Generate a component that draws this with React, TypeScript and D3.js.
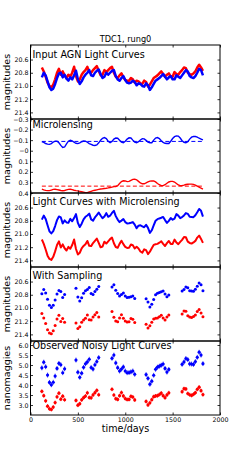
import React, { useEffect, useRef } from 'react';
import * as d3 from 'd3';

// sampling grid of the simulated curves (days)
const times = [
  120, 140, 160, 180, 200, 220, 240, 260, 280, 300,
  320, 340, 360, 380, 400, 420, 440, 460, 480, 500,
  520, 540, 560, 580, 600, 620, 640, 660, 680, 700,
  720, 740, 760, 780, 800, 820, 840, 860, 880, 900,
  920, 940, 960, 980, 1000, 1020, 1040, 1060, 1080, 1100,
  1120, 1140, 1160, 1180, 1200, 1220, 1240, 1260, 1280, 1300,
  1320, 1340, 1360, 1380, 1400, 1420, 1440, 1460, 1480, 1500,
  1520, 1540, 1560, 1580, 1600, 1620, 1640, 1660, 1680, 1700,
  1720, 1740, 1760, 1780, 1800, 1820,
];

// intrinsic AGN magnitudes (image A red, image B blue)
const agnRed = [
  20.72, 20.78, 20.86, 20.95, 21.0, 21.02, 20.98, 20.9, 20.8, 20.74,
  20.83, 20.78, 20.84, 20.88, 20.83, 20.86, 20.8, 20.71, 20.85, 20.93,
  20.9, 20.83, 20.79, 20.76, 20.71, 20.79, 20.8, 20.76, 20.73, 20.7,
  20.77, 20.84, 20.83, 20.76, 20.79, 20.76, 20.73, 20.71, 20.8, 20.86,
  20.88, 20.84, 20.81, 20.87, 20.91, 20.92, 20.92, 20.88, 20.9, 20.95,
  20.92, 20.93, 20.96, 20.97, 20.92, 20.94, 21.01, 20.98, 20.93, 20.88,
  20.86, 20.84, 20.81, 20.78, 20.82, 20.86, 20.83, 20.81, 20.86, 20.86,
  20.79, 20.82, 20.83, 20.79, 20.76, 20.72, 20.73, 20.8, 20.82, 20.83,
  20.81, 20.78, 20.72, 20.68, 20.72, 20.77,
];
const agnBlue = [
  20.87, 20.8, 20.84, 20.93, 21.02, 21.06, 21.04, 20.97, 20.88, 20.81,
  20.8, 20.87, 20.83, 20.89, 20.92, 20.87, 20.9, 20.84, 20.77, 20.9,
  20.97, 20.93, 20.87, 20.83, 20.8, 20.76, 20.84, 20.85, 20.8, 20.77,
  20.75, 20.82, 20.88, 20.86, 20.8, 20.83, 20.8, 20.77, 20.76, 20.85,
  20.9, 20.92, 20.88, 20.85, 20.91, 20.95, 20.96, 20.95, 20.92, 20.94,
  20.99, 20.96, 20.97, 21.0, 21.01, 20.96, 20.99, 21.06, 21.02, 20.97,
  20.92, 20.9, 20.88, 20.85, 20.82, 20.86, 20.9, 20.87, 20.85, 20.9,
  20.9, 20.84, 20.86, 20.88, 20.84, 20.8, 20.76, 20.78, 20.85, 20.87,
  20.88, 20.85, 20.8, 20.74, 20.76, 20.84,
];

// microlensing magnitudes
const mlRed = [
  0.364, 0.37, 0.375, 0.378, 0.378, 0.372, 0.366, 0.364, 0.368, 0.372,
  0.376, 0.378, 0.376, 0.37, 0.366, 0.364, 0.368, 0.374, 0.378, 0.38,
  0.384, 0.388, 0.392, 0.396, 0.396, 0.39, 0.384, 0.378, 0.374, 0.37,
  0.366, 0.362, 0.36, 0.357, 0.355, 0.352, 0.348, 0.344, 0.34, 0.338,
  0.33, 0.31, 0.292, 0.284, 0.286, 0.292, 0.29, 0.28, 0.271, 0.269,
  0.275, 0.29, 0.305, 0.313, 0.313, 0.305, 0.295, 0.288, 0.285, 0.286,
  0.295, 0.31, 0.322, 0.33, 0.33, 0.322, 0.308, 0.296, 0.29, 0.29,
  0.296, 0.31, 0.324, 0.33, 0.33, 0.326, 0.32, 0.317, 0.316, 0.316,
  0.318, 0.325, 0.335, 0.345, 0.355, 0.364,
];
const mlBlue = [
  -0.086, -0.078, -0.068, -0.062, -0.06, -0.068, -0.082, -0.09, -0.09, -0.075,
  -0.05, -0.03, -0.035, -0.065, -0.09, -0.098, -0.092, -0.08, -0.07, -0.067,
  -0.075, -0.085, -0.092, -0.09, -0.08, -0.068, -0.06, -0.052, -0.05, -0.055,
  -0.075, -0.1, -0.118, -0.124, -0.115, -0.09, -0.076, -0.088, -0.11, -0.12,
  -0.118, -0.1, -0.082, -0.076, -0.09, -0.11, -0.122, -0.12, -0.1, -0.082,
  -0.076, -0.085, -0.102, -0.114, -0.112, -0.098, -0.082, -0.076, -0.076, -0.1,
  -0.12, -0.124, -0.115, -0.095, -0.078, -0.07, -0.068, -0.068, -0.09, -0.115,
  -0.133, -0.14, -0.138, -0.12, -0.095, -0.08, -0.076, -0.085, -0.11, -0.128,
  -0.134, -0.134, -0.128, -0.118, -0.11, -0.102,
];
const mlMeanRed = 0.335;
const mlMeanBlue = -0.088;

// observing seasons (days)
const seasons = [[120, 360], [480, 720], [860, 1100], [1220, 1460], [1600, 1820]];
const fluxErrRed = 0.1;
const fluxErrBlue = 0.12;

const magTicks = [20.6, 20.8, 21.0, 21.2, 21.4];
const mlTicks = [-0.3, -0.2, -0.1, 0, 0.1, 0.2, 0.3, 0.4];
const mlTickLabels = ['\u22120.3', '\u22120.2', '\u22120.1', '\u22120', '0.1', '0.2', '0.3', '0.4'];
const fluxTicks = [3.0, 3.5, 4.0, 4.5, 5.0, 5.5, 6.0];
const timeTicks = [0, 500, 1000, 1500, 2000];

const panelTitles = [
  'Input AGN Light Curves',
  'Microlensing',
  'Light Curves with Microlensing',
  'With Sampling',
  'Observed Noisy Light Curves',
];

const font = 'DejaVu Sans, sans-serif';

const App = () => {
  const svgRef = useRef<SVGSVGElement>(null);

  useEffect(() => {
    const svg = d3.select(svgRef.current);
    svg.selectAll('*').remove();

    const left = 30.5, right = 220, top0 = 45, ph = 74;
    const x = d3.scaleLinear().domain([0, 2000]).range([left, right]);

    const lensedRed = agnRed.map((m, i) => m + mlRed[i]);
    const lensedBlue = agnBlue.map((m, i) => m + mlBlue[i]);
    const inSeason = (t: number) => seasons.some(s => t >= s[0] && t <= s[1]);
    const toFlux = (m: number) => Math.pow(10, (22.5 - m) / 2.5);

    const panels = [
      { domain: [20.38, 21.5], ticks: magTicks, labels: magTicks.map(d => d.toFixed(1)), ylabel: 'magnitudes', titleY: 12.5 },
      { domain: [-0.3, 0.4], ticks: mlTicks, labels: mlTickLabels, ylabel: 'magnitudes', titleY: 8.5 },
      { domain: [20.38, 21.5], ticks: magTicks, labels: magTicks.map(d => d.toFixed(1)), ylabel: 'magnitudes', titleY: 12 },
      { domain: [20.38, 21.5], ticks: magTicks, labels: magTicks.map(d => d.toFixed(1)), ylabel: 'magnitudes', titleY: 12 },
      { domain: [6.2, 2.5], ticks: fluxTicks, labels: fluxTicks.map(d => d.toFixed(1)), ylabel: 'nanomaggies', titleY: 7.5 },
    ];

    svg
      .append('text')
      .attr('x', 125.5)
      .attr('y', 41.5)
      .attr('text-anchor', 'middle')
      .attr('font-family', font)
      .style('font-size', '8.2px')
      .text('TDC1, rung0');

    panels.forEach((p, i) => {
      const top = top0 + i * ph;
      const y = d3.scaleLinear().domain(p.domain).range([top, top + ph]);
      const g = svg.append('g');

      g.append('clipPath')
        .attr('id', `clip${i}`)
        .append('rect')
        .attr('x', left).attr('y', top).attr('width', right - left).attr('height', ph);
      const plot = g.append('g').attr('clip-path', `url(#clip${i})`);

      const line = (vals: number[]) =>
        d3.line<number>().x((_, j) => x(times[j])).y(v => y(v))(vals);

      if (i === 0 || i === 2) {
        const r = i === 0 ? agnRed : lensedRed;
        const b = i === 0 ? agnBlue : lensedBlue;
        const w = i === 0 ? 2.5 : 2;
        plot.append('path').attr('d', line(r)).attr('fill', 'none').attr('stroke', '#ff0000').attr('stroke-width', w).attr('stroke-linejoin', 'round');
        plot.append('path').attr('d', line(b)).attr('fill', 'none').attr('stroke', '#0000ff').attr('stroke-width', w).attr('stroke-linejoin', 'round');
      }

      if (i === 1) {
        [[mlRed, mlMeanRed, '#ff0000'], [mlBlue, mlMeanBlue, '#0000ff']].forEach(([vals, mean, c]) => {
          plot.append('line')
            .attr('x1', x(times[0])).attr('x2', x(times[times.length - 1]))
            .attr('y1', y(mean as number)).attr('y2', y(mean as number))
            .attr('stroke', c as string).attr('stroke-width', 1).attr('stroke-dasharray', '4,2.5');
          plot.append('path').attr('d', line(vals as number[])).attr('fill', 'none')
            .attr('stroke', c as string).attr('stroke-width', 1.4);
        });
      }

      if (i === 3 || i === 4) {
        [[lensedRed, '#ff0000', fluxErrRed], [lensedBlue, '#0000ff', fluxErrBlue]].forEach(([vals, c, err]) => {
          const pts = (vals as number[])
            .map((m, j) => ({ t: times[j], v: i === 3 ? m : toFlux(m) }))
            .filter(d => inSeason(d.t));
          if (i === 4) {
            plot.selectAll(null).data(pts).enter().append('line')
              .attr('x1', d => x(d.t)).attr('x2', d => x(d.t))
              .attr('y1', d => y(d.v - (err as number))).attr('y2', d => y(d.v + (err as number)))
              .attr('stroke', c as string).attr('stroke-width', 0.8);
          }
          plot.selectAll(null).data(pts).enter().append('circle')
            .attr('cx', d => x(d.t)).attr('cy', d => y(d.v)).attr('r', i === 3 ? 1.5 : 1.6)
            .attr('fill', c as string);
        });
      }

      // frame
      g.append('rect')
        .attr('x', left).attr('y', top).attr('width', right - left).attr('height', ph)
        .attr('fill', 'none').attr('stroke', '#000').attr('stroke-width', 1);

      // ticks on all four sides, labels only left and on the last panel's bottom
      const yl = g.append('g').attr('transform', `translate(${left},0)`)
        .call(d3.axisLeft(y).tickValues(p.ticks).tickFormat((_, k) => p.labels[k]).tickSizeInner(-2.5).tickSizeOuter(0).tickPadding(2));
      const yr = g.append('g').attr('transform', `translate(${right},0)`)
        .call(d3.axisRight(y).tickValues(p.ticks).tickFormat(() => '').tickSizeInner(-2.5).tickSizeOuter(0));
      const xt = g.append('g').attr('transform', `translate(0,${top})`)
        .call(d3.axisTop(x).tickValues(timeTicks).tickFormat(() => '').tickSizeInner(-2.5).tickSizeOuter(0));
      const xb = g.append('g').attr('transform', `translate(0,${top + ph})`)
        .call(d3.axisBottom(x).tickValues(timeTicks).tickFormat(d => (i === 4 ? String(d) : '')).tickSizeInner(-2.5).tickSizeOuter(0).tickPadding(3));
      [yl, yr, xt, xb].forEach(a => {
        a.select('.domain').remove();
        a.attr('font-family', font).attr('font-size', 6.3);
        a.selectAll('text').attr('fill', '#000');
        a.selectAll('line').attr('stroke', '#000').attr('stroke-width', 0.8);
      });

      // panel title
      g.append('text')
        .attr('x', 32.5)
        .attr('y', top + p.titleY)
        .attr('font-family', font)
        .style('font-size', '9.6px')
        .text(panelTitles[i]);

      // y label
      g.append('text')
        .attr('transform', `translate(9.5,${top + ph / 2}) rotate(-90)`)
        .attr('text-anchor', 'middle')
        .attr('font-family', font)
        .style('font-size', '9.5px')
        .text(p.ylabel);
    });

    svg
      .append('text')
      .attr('x', 125.5)
      .attr('y', 432)
      .attr('text-anchor', 'middle')
      .attr('font-family', font)
      .style('font-size', '9.6px')
      .text('time/days');
  }, []);

  return (
    <svg
      ref={svgRef}
      width={245}
      height={462}
      style={{ position: 'absolute', left: 0, top: 0, background: '#fff' }}
    />
  );
};

export default App;
